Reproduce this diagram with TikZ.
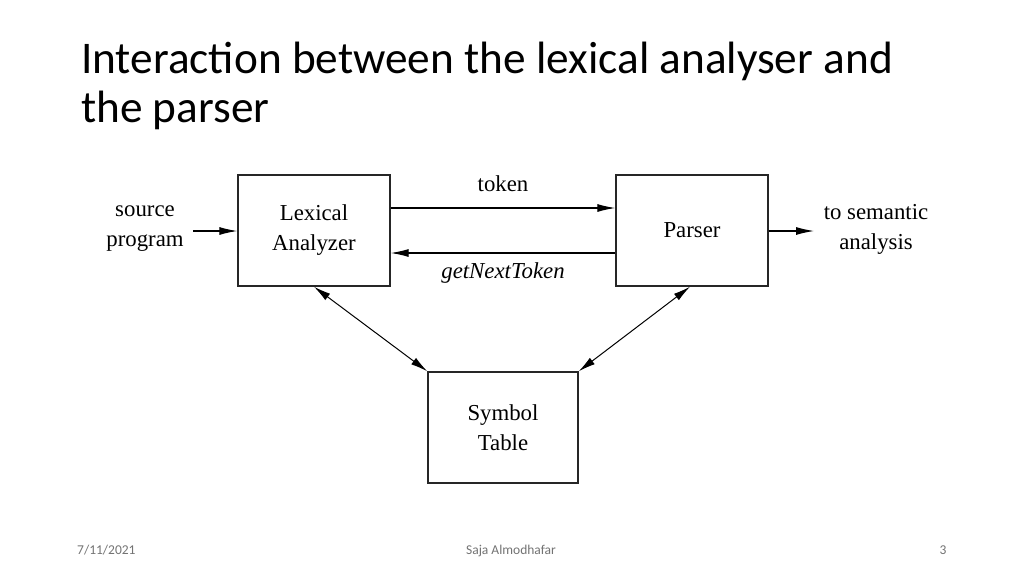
\documentclass[tikz,border=0pt]{standalone}
\usepackage{fontspec}
\setmainfont{Liberation Serif}
\newfontfamily\calib{Carlito}
\usetikzlibrary{arrows.meta}
\begin{document}
\begin{tikzpicture}[x=1pt,y=-1pt,
  blk/.style={draw=black!85, line width=1.4pt, minimum width=152pt, minimum height=111pt, inner sep=0pt, align=center, font=\fontsize{22.8}{30}\selectfont},
  lbl/.style={align=center, font=\fontsize{22.8}{30}\selectfont, inner sep=0pt},
  ttl/.style={anchor=base west, inner sep=0pt, font=\calib\fontsize{45.3}{48}\selectfont},
  arr/.style={line width=1.1pt, -{Latex[length=18pt,width=8pt]}},
  darr/.style={line width=1pt, {Latex[length=17pt,width=8pt]}-{Latex[length=17pt,width=8pt]}},
  foot/.style={font=\calib\fontsize{13.5}{15}\selectfont, text=black!55, inner sep=0pt}]
\useasboundingbox[fill=white] (0,0) rectangle (1024,576);
% title
\node[ttl] (title1) at (81,73) {Interaction between the lexical analyser and};
\node[ttl] (title2) at (81,122) {the parser};
% boxes
\node[blk] (lex) at (314,230.5) {Lexical\\Analyzer};
\node[blk] (par) at (692,230.5) {Parser};
\node[blk, minimum width=150pt] (sym) at (503,427.5) {Symbol\\Table};
% side labels
\node[lbl] (src) at (145,229) {source\\program};
\node[lbl] (sem) at (876,229) {to semantic\\analysis};
\coordinate (srcend) at (193,231);
\coordinate (semend) at (814,231);
\draw[arr] (srcend) -- (lex.west |- srcend);
\draw[arr] (par.east |- semend) -- (semend);
% token / getNextToken
\draw[arr] ([yshift=22.5pt]lex.east) -- ([yshift=22.5pt]par.west);
\draw[arr] ([yshift=-22.5pt]par.west) -- ([yshift=-22.5pt]lex.east);
\node[lbl] (tok) at (503,184) {token};
\node[lbl] (gnt) at (503,273) {\itshape getNextToken};
% symbol table links
\draw[darr] (lex.south) -- (sym.north west);
\draw[darr] ([xshift=-2pt]par.south) -- (sym.north east);
% footer
\node[foot, anchor=base west] (date) at (77,554) {7/11/2021};
\node[foot, anchor=base] (auth) at (511,554) {Saja Almodhafar};
\node[foot, anchor=base] (num) at (943,554) {3};
\end{tikzpicture}
\end{document}
